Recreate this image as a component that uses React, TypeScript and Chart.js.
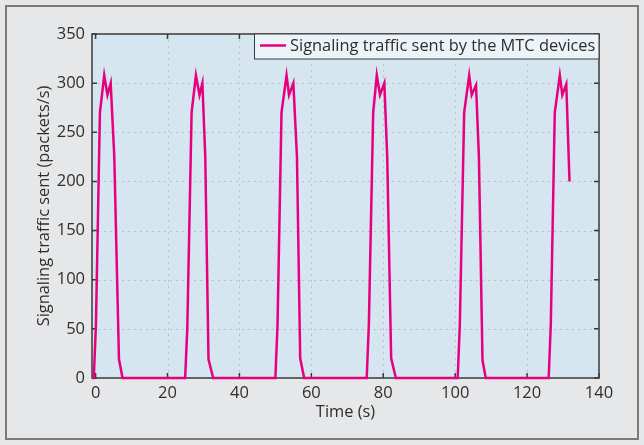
import React, { useEffect, useRef } from "react";
import { Chart, registerables } from "chart.js";

Chart.register(...registerables);

// ---- data ----
const timeSeconds: number[] = [
  -1.0, -0.5, 0.1, 1.2, 2.4, 3.3, 4.2, 5.2, 6.5, 7.5,
  24.9, 25.5, 26.7, 27.9, 28.9, 29.7, 30.5, 31.4, 32.7,
  50.0, 50.6, 51.7, 53.1, 53.8, 55.0, 56.0, 56.9, 58.0,
  75.4, 76.0, 77.2, 78.2, 79.1, 80.3, 81.1, 82.2, 83.5,
  100.7, 101.3, 102.5, 103.9, 104.6, 105.8, 106.6, 107.6, 108.5,
  126.0, 126.6, 127.7, 129.1, 129.8, 130.9, 131.8,
];
const trafficValues: number[] = [
  0, 0, 55, 270, 308, 288, 300, 225, 19, 0,
  0, 50, 270, 308, 288, 300, 225, 19, 0,
  0, 55, 270, 308, 288, 300, 225, 20, 0,
  0, 55, 270, 308, 288, 300, 225, 20, 0,
  0, 55, 270, 308, 288, 298, 225, 18, 0,
  0, 55, 270, 308, 288, 299, 200,
];
const xTickValues: number[] = [0, 20, 40, 60, 80, 100, 120, 140];
const yTickValues: number[] = [0, 50, 100, 150, 200, 250, 300, 350];
const xGridValues: number[] = [20, 40, 60, 80, 100, 120];
const yGridValues: number[] = [50, 100, 150, 200, 250, 300];
const seriesLabel = "Signaling traffic sent by the MTC devices";
const xTitle = "Time (s)";
const yTitle = "Signaling traffic sent (packets/s)";

const FONT = '"Open Sans", "Noto Sans", sans-serif';
const LINE_COLOR = "#e6007e";
const TEXT_COLOR = "#2e2e2e";

const decorPlugin = {
  id: "decor",
  beforeDraw(chart: any) {
    const { ctx, width, height, chartArea } = chart;
    ctx.save();
    ctx.fillStyle = "#e6e7e9";
    ctx.fillRect(0, 0, width, height);
    ctx.strokeStyle = "#7a7a7a";
    ctx.lineWidth = 2;
    ctx.strokeRect(6, 6, 632, 433);
    ctx.fillStyle = "#d6e6f1";
    ctx.fillRect(chartArea.left, chartArea.top, chartArea.right - chartArea.left, chartArea.bottom - chartArea.top);
    ctx.restore();
  },
  beforeDatasetsDraw(chart: any) {
    const { ctx, chartArea } = chart;
    const xs = chart.scales.x;
    const ys = chart.scales.y;
    const { left, right, top, bottom } = chartArea;
    ctx.save();
    // dashed grid
    ctx.strokeStyle = "#bdc0c4";
    ctx.lineWidth = 1;
    ctx.setLineDash([2, 4]);
    xGridValues.forEach((v) => {
      const px = Math.round(xs.getPixelForValue(v)) + 0.5;
      ctx.beginPath();
      ctx.moveTo(px, top);
      ctx.lineTo(px, bottom);
      ctx.stroke();
    });
    yGridValues.forEach((v) => {
      const py = Math.round(ys.getPixelForValue(v)) + 0.5;
      ctx.beginPath();
      ctx.moveTo(left, py);
      ctx.lineTo(right, py);
      ctx.stroke();
    });
    ctx.setLineDash([]);
    // tick marks (inward)
    ctx.strokeStyle = "#3a3a3a";
    ctx.lineWidth = 1.5;
    const tl = 5;
    xTickValues.forEach((v) => {
      const px = xs.getPixelForValue(v);
      ctx.beginPath();
      ctx.moveTo(px, bottom);
      ctx.lineTo(px, bottom - tl);
      ctx.moveTo(px, top);
      ctx.lineTo(px, top + tl);
      ctx.stroke();
    });
    yTickValues.forEach((v) => {
      const py = ys.getPixelForValue(v);
      ctx.beginPath();
      ctx.moveTo(left, py);
      ctx.lineTo(left + tl, py);
      ctx.moveTo(right, py);
      ctx.lineTo(right - tl, py);
      ctx.stroke();
    });
    // frame
    ctx.strokeStyle = "#3a3a3a";
    ctx.lineWidth = 1.5;
    ctx.strokeRect(left, top, right - left, bottom - top);
    ctx.restore();
  },
  afterDatasetsDraw(chart: any) {
    const { ctx, chartArea } = chart;
    const { left, right, top, bottom } = chartArea;
    ctx.save();
    // legend box (top-right inside plot)
    const bx = 254.5;
    const by = top;
    const bw = right - bx;
    const bh = 25;
    ctx.fillStyle = "#ecf3f9";
    ctx.fillRect(bx, by, bw, bh);
    ctx.strokeStyle = "#3a3a3a";
    ctx.lineWidth = 1;
    ctx.strokeRect(bx, by, bw, bh);
    ctx.strokeStyle = LINE_COLOR;
    ctx.lineWidth = 2.5;
    ctx.beginPath();
    ctx.moveTo(260, by + 11.5);
    ctx.lineTo(286, by + 11.5);
    ctx.stroke();
    ctx.fillStyle = TEXT_COLOR;
    ctx.font = `16.4px ${FONT}`;
    ctx.textAlign = "left";
    ctx.textBaseline = "middle";
    ctx.fillText(seriesLabel, 290, by + 12);
    // axis titles
    ctx.font = `16.4px ${FONT}`;
    ctx.textAlign = "center";
    ctx.textBaseline = "middle";
    ctx.fillText(xTitle, (left + right) / 2, 412);
    ctx.translate(44, (top + bottom) / 2);
    ctx.rotate(-Math.PI / 2);
    ctx.fillText(yTitle, 0, 0);
    ctx.restore();
  },
};

export default function App() {
  const canvasRef = useRef<HTMLCanvasElement | null>(null);

  useEffect(() => {
    const canvas = canvasRef.current;
    if (!canvas) return;
    const points = timeSeconds.map((t, i) => ({ x: t, y: trafficValues[i] }));
    const chart = new Chart(canvas, {
      type: "line",
      data: {
        datasets: [
          {
            label: seriesLabel,
            data: points,
            borderColor: LINE_COLOR,
            backgroundColor: LINE_COLOR,
            borderWidth: 2.5,
            pointRadius: 0,
            tension: 0,
            clip: 4,
          } as any,
        ],
      },
      options: {
        animation: false,
        responsive: false,
        devicePixelRatio: 1,
        layout: { padding: { left: 0, right: 45, top: 34, bottom: 0 } },
        plugins: { legend: { display: false }, tooltip: { enabled: false } },
        scales: {
          x: {
            type: "linear",
            min: -1,
            max: 140,
            grid: { display: false, drawTicks: false },
            border: { display: false },
            afterFit: (axis: any) => {
              axis.height = 67;
            },
            afterBuildTicks: (axis: any) => {
              axis.ticks = xTickValues.map((v) => ({ value: v }));
            },
            ticks: {
              padding: 5,
              color: TEXT_COLOR,
              font: { family: FONT, size: 16.5 },
              maxRotation: 0,
              autoSkip: false,
            },
          },
          y: {
            type: "linear",
            min: 0,
            max: 350,
            grid: { display: false, drawTicks: false },
            border: { display: false },
            afterFit: (axis: any) => {
              axis.width = 92;
            },
            afterBuildTicks: (axis: any) => {
              axis.ticks = yTickValues.map((v) => ({ value: v }));
            },
            ticks: {
              padding: 7,
              color: TEXT_COLOR,
              font: { family: FONT, size: 16.5 },
              autoSkip: false,
            },
          },
        },
      },
      plugins: [decorPlugin],
    });
    return () => chart.destroy();
  }, []);

  return (
    <div style={{ position: "fixed", left: 0, top: 0, width: 644, height: 445, background: "#e6e7e9" }}>
      <canvas ref={canvasRef} width={644} height={445} style={{ display: "block", width: 644, height: 445 }} />
    </div>
  );
}
